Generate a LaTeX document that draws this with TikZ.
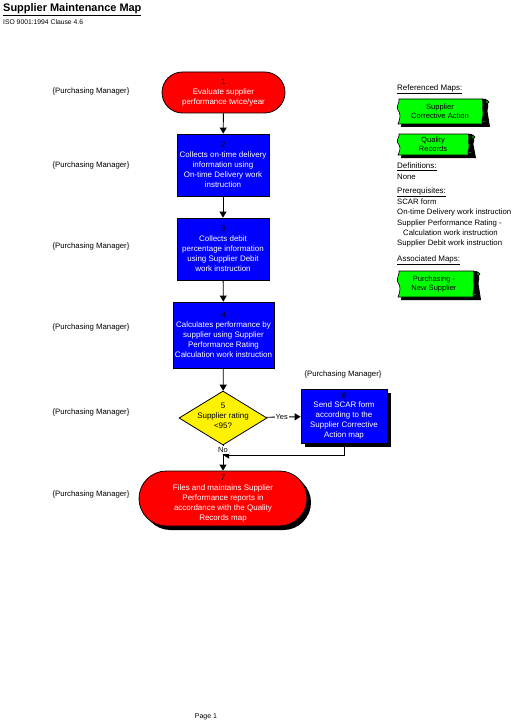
\documentclass[tikz,border=0pt]{standalone}
\usepackage{fontspec}
\setmainfont{Liberation Sans}
\usetikzlibrary{shapes.geometric,shadows,arrows.meta}
\definecolor{tapegreen}{RGB}{0,255,0}
\newcommand{\tapeshape}[4]{%
  % #1 x1, #2 y1, #3 x2, #4 y2
  \pgfmathsetmacro{\hh}{#4-#2}%
  % shadow
  \fill[black] ({#1+3},{#2+3}) -- ({#3-3},{#2+3}) -- ({#3+1},{#4+3}) -- ({#1+4},{#4+3})
     .. controls ({#1+6},{#4-4}) and ({#1+1},{#2+8}) .. ({#1+3},{#2+3}) -- cycle;
  % body
  \filldraw[fill=tapegreen,draw=black,line width=0.6bp] ({#1+2},{#2}) -- ({#3-6},{#2})
     -- ({#3-6},{#4}) -- ({#1+1},{#4})
     .. controls ({#1+4},{#4-0.3*\hh}) and ({#1+3.5},{#2+0.6*\hh}) .. ({#1+0.5},{#2+0.4*\hh})
     .. controls ({#1-0.5},{#2+0.25*\hh}) and ({#1+3},{#2+0.1*\hh}) .. ({#1+2},{#2}) -- cycle;
  % scroll
  \fill[black] ({#3-7},{#2}) -- ({#3-3},{#2})
     .. controls ({#3+1},{#2+0.2*\hh}) and ({#3-1},{#2+0.45*\hh}) .. ({#3-3},{#2+0.55*\hh})
     .. controls ({#3-5},{#2+0.65*\hh}) and ({#3+1},{#4-0.2*\hh}) .. ({#3-1},{#4})
     -- ({#3-7},{#4})
     .. controls ({#3-9},{#4-0.2*\hh}) and ({#3-4},{#2+0.6*\hh}) .. ({#3-6},{#2+0.5*\hh})
     .. controls ({#3-8},{#2+0.4*\hh}) and ({#3-5},{#2+0.2*\hh}) .. ({#3-7},{#2}) -- cycle;
  \filldraw[fill=tapegreen,draw=black,line width=0.8bp] ({#3-2},{#2+3}) circle (1.8bp);
  \filldraw[fill=tapegreen,draw=black,line width=0.8bp] ({#3-5},{#4-2.5}) circle (1.4bp);
}
\begin{document}
\begin{tikzpicture}[x=1bp,y=-1bp,
  every node/.style={font=\fontsize{8}{10}\selectfont, inner sep=0pt},
  arr/.style={-{Triangle[length=6bp,width=7bp]}, line width=0.9bp},
  procbox/.style={draw=black, line width=0.8bp, fill=blue, text=white, align=center},
  termbox/.style={draw=black, line width=0.8bp, fill=red, text=white, align=center},
  shad/.style={drop shadow={opacity=1,fill=black,shadow xshift=4bp,shadow yshift=-4bp}},
  role/.style={font=\fontsize{7.8}{9}\selectfont},
  side/.style={anchor=west, font=\fontsize{7.8}{9}\selectfont},
  sidehead/.style={anchor=west, font=\fontsize{8}{9}\selectfont},
  tapetext/.style={align=center, font=\fontsize{7.6}{9.5}\selectfont},
  lbl/.style={fill=white, inner sep=1pt, font=\fontsize{7.5}{8}\selectfont}]
\useasboundingbox (0,0) rectangle (516,726);

% title
\node[anchor=west, font=\bfseries\fontsize{11}{12}\selectfont] (title) at (3,10) {\underline{Supplier Maintenance Map}};
\node[anchor=west, font=\fontsize{6.8}{8}\selectfont] (iso) at (3,22) {ISO 9001:1994 Clause 4.6};

% flow nodes
\node[termbox, minimum width=123bp, minimum height=41bp, rounded corners=20.5bp] (n1) at (223.5,92.5)
  {\textcolor{black}{1}\\Evaluate supplier\\performance twice/year};
\node[procbox, minimum width=92bp, minimum height=62bp] (n2) at (223,165)
  {\textcolor{black}{2}\\Collects on-time delivery\\information using\\On-time Delivery work\\instruction};
\node[procbox, minimum width=92bp, minimum height=62bp] (n3) at (223,249)
  {\textcolor{black}{3}\\Collects debit\\percentage information\\using Supplier Debit\\work instruction};
\node[procbox, minimum width=101bp, minimum height=66bp] (n4) at (223.5,335)
  {\textcolor{black}{4}\\Calculates performance by\\supplier using Supplier\\Performance Rating\\Calculation work instruction};
\node[diamond, draw=black, line width=0.8bp, fill=yellow, minimum width=88bp, minimum height=54bp, aspect=1.63] (d5) at (223,418) {};
\node[align=center] (d5t) at (223,416) {5\\Supplier rating\\<95?};
\node[procbox, shad, minimum width=86bp, minimum height=54bp] (n6) at (344,416)
  {\textcolor{black}{6}\\Send SCAR form\\according to the\\Supplier Corrective\\Action map};
\node[termbox, shad, minimum width=168bp, minimum height=55bp, rounded corners=27.5bp] (n7) at (223,498.5)
  {\textcolor{black}{7}\\Files and maintains Supplier\\Performance reports in\\accordance with the Quality\\Records map};

% connectors
\coordinate (m) at (223,455);
\draw[arr] (n1) -- (n2);
\draw[arr] (n2) -- (n3);
\draw[arr] (n3) -- (n4);
\draw[arr] (n4) -- (d5);
\draw[arr] (d5) -- (n6) node[lbl, pos=0.45] (yes) {Yes};
\draw[arr] (d5) -- (n7);
\draw[arr] (n6.south) |- (m);
\node[lbl] (no) at (223,450) {No};

% roles
\node[role] (r1) at (91,91) {\{Purchasing Manager\}};
\node[role] (r2) at (91,165) {\{Purchasing Manager\}};
\node[role] (r3) at (91,246) {\{Purchasing Manager\}};
\node[role] (r4) at (91,327) {\{Purchasing Manager\}};
\node[role] (r5) at (91,412) {\{Purchasing Manager\}};
\node[role] (r6) at (91,494) {\{Purchasing Manager\}};
\node[role] (r7) at (343,374) {\{Purchasing Manager\}};

% side panel
\node[sidehead] (h1) at (397,89) {\underline{Referenced Maps:}};
\tapeshape{397}{99}{489}{124}
\node[tapetext] (t1) at (440,111.5) {Supplier\\Corrective Action};
\tapeshape{397}{134}{475}{155}
\node[tapetext] (t2) at (433,144.5) {Quality\\Records};
\node[sidehead] (h2) at (397,167) {\underline{Definitions:}};
\node[side] (s0) at (397,177) {None};
\node[sidehead] (h3) at (397,192) {\underline{Prerequisites:}};
\node[side] (s1) at (397,202) {SCAR form};
\node[side] (s2) at (397,212.5) {On-time Delivery work instruction};
\node[side] (s3) at (397,223) {Supplier Performance Rating -};
\node[side] (s4) at (403,233) {Calculation work instruction};
\node[side] (s5) at (397,243) {Supplier Debit work instruction};
\node[sidehead] (h4) at (397,260) {\underline{Associated Maps:}};
\tapeshape{397}{271}{480}{297}
\node[tapetext] (t3) at (434,284) {Purchasing -\\New Supplier};

\node[font=\fontsize{7}{8}\selectfont] (pg) at (206,717) {Page 1};
\end{tikzpicture}
\end{document}
